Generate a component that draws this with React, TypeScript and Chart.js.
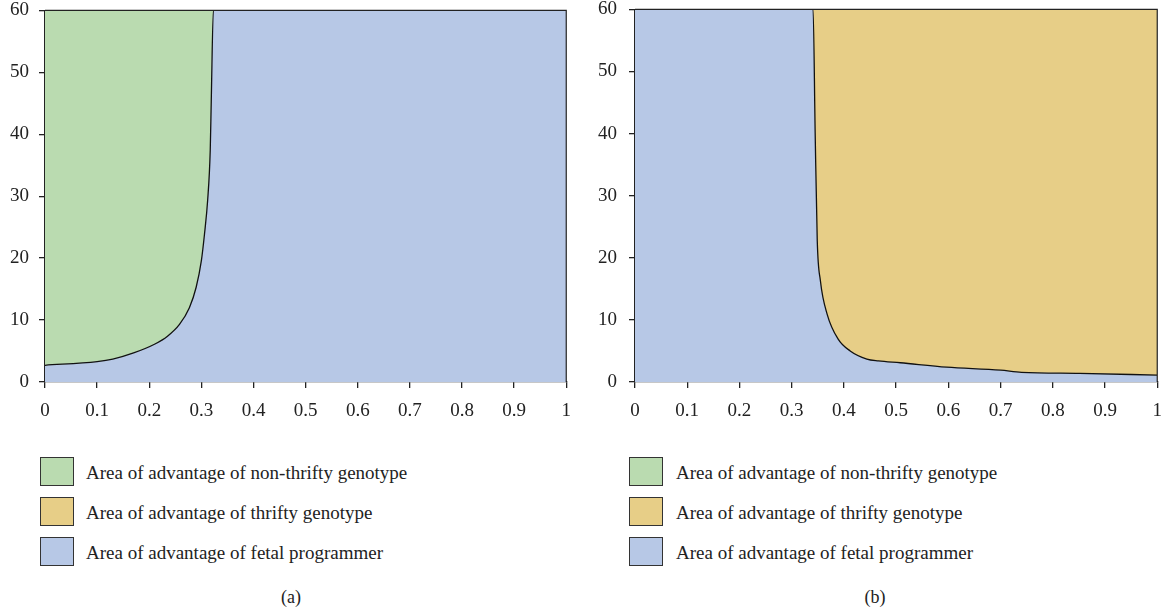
import React, { useEffect, useRef } from "react";
import { Chart, registerables } from "chart.js";

Chart.register(...registerables);

// ---------- data ----------
const xTickLabels = ["0", "0.1", "0.2", "0.3", "0.4", "0.5", "0.6", "0.7", "0.8", "0.9", "1"];
const yTickLabels = ["0", "10", "20", "30", "40", "50", "60"];

// Panel (a): boundary between non-thrifty (above) and fetal programmer (below)
const curveAX = [0, 0.1, 0.13, 0.17, 0.21, 0.235, 0.258, 0.277, 0.29, 0.3, 0.306, 0.312, 0.317, 0.319, 0.323];
const curveAY = [2.7, 3.3, 3.7, 4.7, 6.1, 7.4, 9.3, 12.0, 15.3, 19.6, 23.9, 29.3, 37.4, 45.5, 60];

// Panel (b): boundary between fetal programmer (left/below) and thrifty (right/above)
const curveBX = [0.341, 0.345, 0.349, 0.355, 0.368, 0.389, 0.412, 0.444, 0.466, 0.508, 0.597, 0.7, 0.74, 0.851, 1.0];
const curveBY = [60, 40, 22.7, 16.3, 10.9, 6.9, 5.0, 3.7, 3.4, 3.1, 2.4, 1.9, 1.55, 1.4, 1.1];

const legendLabels = [
  "Area of advantage of non-thrifty genotype",
  "Area of advantage of thrifty genotype",
  "Area of advantage of fetal programmer",
];
const GREEN = "#BADBB0";
const GOLD = "#E7CE87";
const BLUE = "#B7C8E6";
const legendColors = [GREEN, GOLD, BLUE];
const captions = ["(a)", "(b)"];

const FONT = '"Liberation Serif", "DejaVu Serif", serif';

const toPts = (xs: number[], ys: number[]) => xs.map((x, i) => ({ x, y: ys[i] }));

const framePlugin = {
  id: "frame",
  afterDatasetsDraw(chart: any) {
    const { ctx, chartArea } = chart;
    ctx.save();
    ctx.strokeStyle = "#222";
    ctx.lineWidth = 1.2;
    ctx.beginPath();
    ctx.moveTo(chartArea.left, chartArea.top);
    ctx.lineTo(chartArea.right, chartArea.top);
    ctx.lineTo(chartArea.right, chartArea.bottom);
    ctx.stroke();
    ctx.restore();
  },
};

const X_AXIS_H = 59;

function makeOptions(yPad: number) {
  return {
    responsive: false,
    animation: false as const,
    layout: { padding: { top: 0, right: 15, left: 0, bottom: 0 } },
    plugins: { legend: { display: false }, tooltip: { enabled: false } },
    elements: { point: { radius: 0 } },
    scales: {
      x: {
        type: "linear" as const,
        min: 0,
        max: 1,
        afterFit: (s: any) => {
          s.height = X_AXIS_H;
        },
        ticks: {
          stepSize: 0.1,
          color: "#222",
          padding: 12,
          maxRotation: 0,
          font: { family: FONT, size: 19 },
          callback: (v: any) => xTickLabels[Math.round(Number(v) * 10)],
        },
        grid: { drawOnChartArea: false, drawTicks: true, tickLength: 6, color: "#222", lineWidth: 1.3 },
        border: { display: true, color: "#222", width: 1.3 },
      },
      y: {
        type: "linear" as const,
        min: 0,
        max: 60,
        afterFit: (s: any) => {
          s.width = 45;
        },
        ticks: {
          stepSize: 10,
          color: "#222",
          padding: yPad,
          font: { family: FONT, size: 19 },
          callback: (v: any) => yTickLabels[Math.round(Number(v) / 10)],
        },
        grid: { drawOnChartArea: false, drawTicks: true, tickLength: 6, color: "#222", lineWidth: 1.3 },
        border: { display: true, color: "#222", width: 1.3 },
      },
    },
  };
}

const lineDs = (data: any[]) => ({
  data,
  borderColor: "#111",
  borderWidth: 1.3,
  fill: false,
  pointRadius: 0,
  cubicInterpolationMode: "monotone" as const,
});
const fillDs = (data: any[], color: string, fill: string) => ({
  data,
  borderWidth: 0,
  borderColor: "rgba(0,0,0,0)",
  backgroundColor: color,
  fill,
  pointRadius: 0,
  cubicInterpolationMode: "monotone" as const,
});

// Build a chart so that its plot area spans [plotTop, plotBottom] on the page
function buildChart(canvas: HTMLCanvasElement, makeCfg: () => any, plotTop: number, plotBottom: number) {
  let chart = new Chart(canvas, makeCfg());
  const t = chart.chartArea.top;
  chart.destroy();
  const h = Math.round(plotBottom - plotTop + t + X_AXIS_H);
  canvas.height = h;
  canvas.style.height = h + "px";
  canvas.style.top = plotTop - t + "px";
  chart = new Chart(canvas, makeCfg());
  return chart;
}

function PanelA() {
  const ref = useRef<HTMLCanvasElement>(null);
  useEffect(() => {
    const makeCfg = () => {
      const fillPts = [...toPts(curveAX, curveAY), { x: 1, y: 60 }];
      return {
        type: "line",
        data: {
          datasets: [
            lineDs([...toPts(curveAX, curveAY), { x: 1, y: 60 }]),
            fillDs(fillPts, GREEN, "end"),
            fillDs([...fillPts], BLUE, "start"),
          ],
        },
        options: makeOptions(10),
        plugins: [framePlugin],
      };
    };
    const chart = buildChart(ref.current!, makeCfg, 10, 381.5);
    return () => chart.destroy();
  }, []);
  return <canvas ref={ref} width={583} height={440} style={{ position: "absolute", left: 0, top: 0 }} />;
}

function PanelB() {
  const ref = useRef<HTMLCanvasElement>(null);
  useEffect(() => {
    const makeCfg = () => {
      const fillPts = [{ x: 0, y: 60 }, ...toPts(curveBX, curveBY)];
      return {
        type: "line",
        data: {
          datasets: [
            lineDs([...fillPts]),
            fillDs(fillPts, GOLD, "end"),
            fillDs([...fillPts], BLUE, "start"),
          ],
        },
        options: makeOptions(12),
        plugins: [framePlugin],
      };
    };
    const chart = buildChart(ref.current!, makeCfg, 9, 381.5);
    return () => chart.destroy();
  }, []);
  return <canvas ref={ref} width={584} height={440} style={{ position: "absolute", left: 590, top: 0 }} />;
}

function Legend({ left, textLeft }: { left: number; textLeft: number }) {
  const tops = [457, 497, 537];
  return (
    <>
      {legendLabels.map((lab, i) => (
        <React.Fragment key={lab}>
          <div
            style={{
              position: "absolute",
              left,
              top: tops[i],
              width: 32,
              height: 27,
              background: legendColors[i],
              border: "1.5px solid #333",
            }}
          />
          <div
            style={{
              position: "absolute",
              left: textLeft,
              top: tops[i] + 15,
              transform: "translateY(-50%)",
              fontFamily: FONT,
              fontSize: 19,
              color: "#222",
              whiteSpace: "nowrap",
              lineHeight: 1,
            }}
          >
            {lab}
          </div>
        </React.Fragment>
      ))}
    </>
  );
}

export default function App() {
  return (
    <div
      style={{
        position: "fixed",
        left: 0,
        top: 0,
        width: 1167,
        height: 613,
        background: "#fff",
        overflow: "hidden",
      }}
    >
      <PanelA />
      <PanelB />
      <Legend left={40} textLeft={86} />
      <Legend left={629} textLeft={676} />
      {captions.map((c, i) => (
        <div
          key={c}
          style={{
            position: "absolute",
            left: i === 0 ? 291 : 875,
            top: 597,
            transform: "translate(-50%, -50%)",
            fontFamily: FONT,
            fontSize: 18,
            color: "#222",
            lineHeight: 1,
          }}
        >
          {c}
        </div>
      ))}
    </div>
  );
}
